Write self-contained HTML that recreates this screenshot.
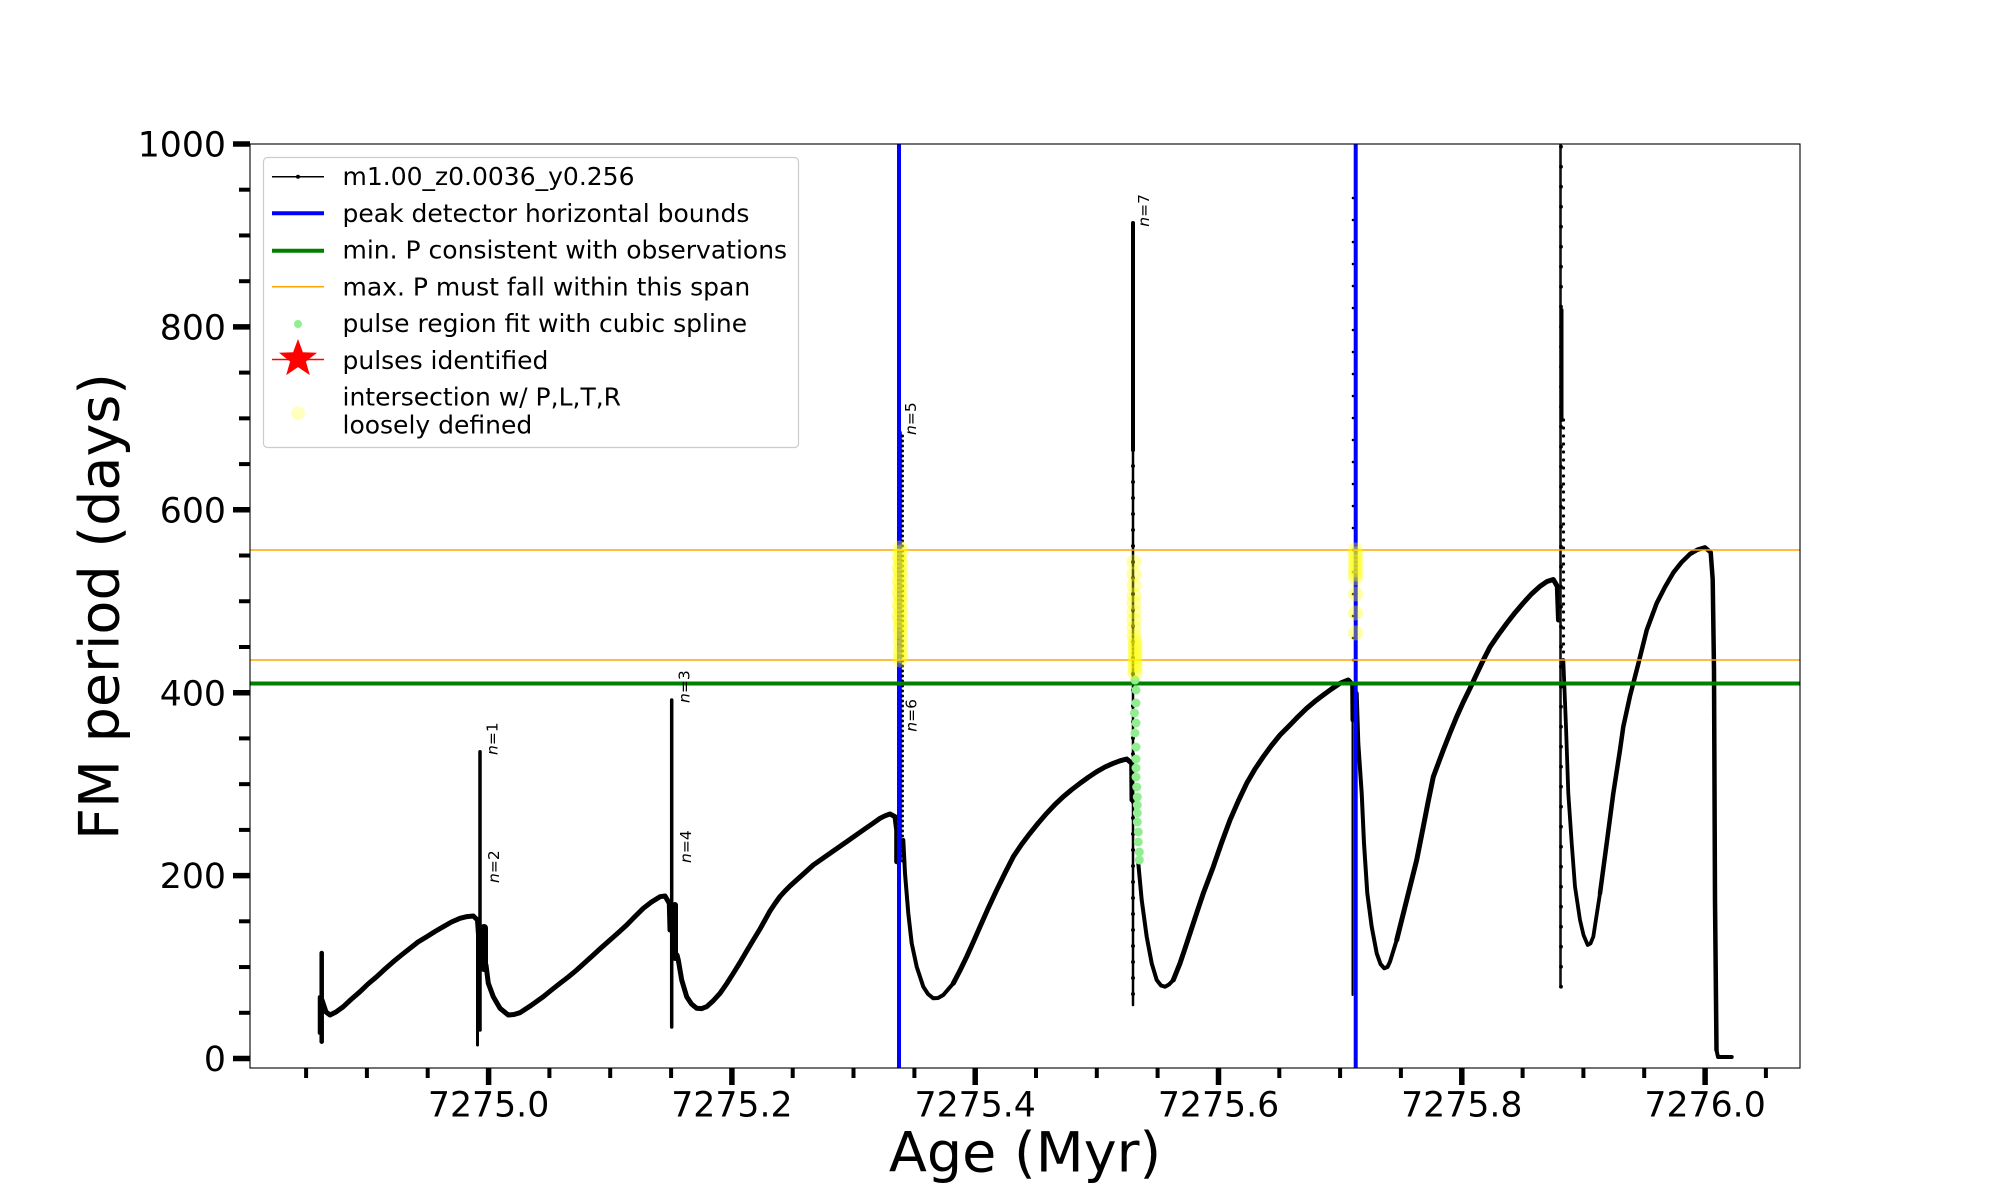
<!DOCTYPE html>
<html><head><meta charset="utf-8"><style>
html,body{margin:0;padding:0;background:#fff;}
svg{display:block;font-family:"DejaVu Sans","Liberation Sans",sans-serif;}
</style></head><body>
<svg width="2000" height="1200" viewBox="0 0 2000 1200" xmlns="http://www.w3.org/2000/svg">
<rect x="0" y="0" width="2000" height="1200" fill="#fff"/>
<defs><clipPath id="ax"><rect x="250" y="144" width="1550" height="924"/></clipPath></defs>
<g clip-path="url(#ax)" fill="none" stroke="#000" stroke-linejoin="round" stroke-linecap="round">
<!-- start spike -->
<path d="M321.7,953 L321.7,1041.7" stroke-width="4.5"/>
<path d="M319.5,997 L319.5,1033" stroke-width="3.5"/>
<path d="M322,1000 L326,1012 L330,1015 L336,1012 L343.3,1006.7 L351,999.5 L360,991.7 L368,984 L376.7,976.7 L385,969 L393.3,961.7 L401.5,955 L410,948.3 L418,942 L426.7,936.7 L435,931.5 L443.3,926.7 L451.5,922 L460,918.3 L467,916.6 L473.3,916 L477.5,920 L478.5,935" stroke-width="5"/>
<!-- spike 1 -->
<path d="M480,751.7 L480,1030" stroke-width="3.5"/>
<path d="M477.5,925 L477.5,1045" stroke-width="3"/>
<path d="M484,928 L484,968" stroke-width="8"/>
<path d="M486,965 L488.3,983.3 L493.3,996.7 L500,1008.3 L508.3,1015 L514,1014.5 L520,1012.7 L531,1005.5 L543.3,996.7 L551.5,990 L560,983.3 L568.5,976.8 L576.7,970 L585,962.5 L593.3,955 L601.5,947.5 L610,940 L618.5,932.5 L626.7,925 L635,916.5 L643.3,908.3 L651.5,902 L660,896.7 L665,896 L669.3,903.3 L670,930" stroke-width="5"/>
<!-- spike 3 -->
<path d="M671.7,700 L671.7,1027" stroke-width="3.5"/>
<path d="M675,905 L675,958" stroke-width="6"/>
<path d="M677,955 L678.3,960 L681.7,980 L686.7,996.7 L691.5,1004 L696.7,1008.3 L701.5,1008.6 L706.7,1006.7 L713,1001 L720,993.3 L726.5,984 L733.3,973.3 L740,962.5 L746.7,951 L753.3,940 L760,929 L765,920 L770,911 L775,903.5 L780,896.5 L785,891 L790,886 L800,877 L813.3,865 L830,853.3 L846.7,841.7 L863.3,830 L872,824 L880,818.3 L885,815.8 L890,814 L895,816.7 L896.7,830 L896.7,861.7" stroke-width="5"/>
<!-- spike 5 -->
<path d="M901,861 L901,432" stroke-width="1.5"/>
<path d="M902.5,861 L902.5,432" stroke-width="3" stroke-dasharray="0 5"/>
<path d="M903.3,840 L905,873.3 L908.3,913.3 L911.7,943.3 L916.7,966.7 L923.3,986.7 L928,994 L933.3,998.3 L938,998 L943.3,995 L953.3,983.3" stroke-width="4"/>
<path d="M953.3,983.3 L960,970.5 L966.7,956.7 L973.3,942 L980,926.7 L988.3,908 L996.7,890 L1005,873 L1013.3,856.7 L1021.5,844.5 L1030,833.3 L1038.3,823 L1046.7,813.3 L1055,804.5 L1063.3,796.7 L1071.5,789.8 L1080,783.3 L1088.3,777.3 L1096.7,771.7 L1105,767 L1113.3,763.3 L1120,760.8 L1126.7,759 L1131.7,763.3 L1132,800" stroke-width="5"/>
<!-- spike 7 -->
<path d="M1133,223 L1133,1005" stroke-width="2.5"/>
<path d="M1133,223 L1133,450" stroke-width="4"/>
<path d="M1133,450 L1133,1005" stroke-width="4" stroke-dasharray="0 16"/>
<path d="M1138.3,863.3 L1141.7,900 L1146.7,936.7 L1151.7,963.3 L1156.7,980 L1161,985.5 L1165,986.7 L1169,984.5 L1173.3,980" stroke-width="4"/>
<path d="M1173.3,980 L1180,963.3 L1185,948.5 L1190,933.3 L1196.7,913 L1203.3,893.3 L1213.3,866.7 L1221.5,843 L1230,820 L1238.3,801 L1246.7,783.3 L1255,769 L1263.3,756.7 L1271.5,745.5 L1280,735 L1290,725 L1298.3,716.4 L1306.7,708.3 L1315,701.3 L1323.3,695 L1331.5,689 L1340,683.3 L1348.3,680 L1352.7,685 L1353,720" stroke-width="5"/>
<!-- spike at blue 2 -->
<path d="M1352.5,995 L1352.5,690" stroke-width="2"/>
<path d="M1353,660 L1353,185" stroke-width="2.6" stroke-dasharray="0 22"/>
<path d="M1356.7,693.3 L1358.3,743.3 L1361.7,793.3 L1364,843.3 L1367.3,893.3 L1371.7,926.7 L1376.7,953.3 L1380.5,964 L1384.3,968.3 L1387.5,967 L1390,961.7 L1396.7,940" stroke-width="4"/>
<path d="M1396.7,940 L1406.7,900 L1416.7,860 L1423.3,826.7 L1428.3,801 L1433.3,776.7 L1443.3,750 L1450,733 L1456.7,716.7 L1463.3,702 L1470,688.3 L1476.7,674 L1483.3,660 L1490,647 L1498.3,634.8 L1506.7,623.4 L1515,612.7 L1523.3,603 L1531.5,594 L1540,586.3 L1547,581.5 L1553.3,579.5 L1557.3,586.3 L1558.5,620" stroke-width="5"/>
<!-- spike at 7275.88 -->
<path d="M1560.5,986.7 L1560.5,140" stroke-width="2.6" stroke="#111"/>
<path d="M1561,986.7 L1561,140" stroke-width="3.8" stroke-dasharray="0 20"/>
<path d="M1561.5,310 L1561.5,420" stroke-width="4"/>
<path d="M1563.5,420 L1563.5,660" stroke-width="3.2" stroke-dasharray="0 8"/>
<path d="M1563.3,660 L1566,726.7 L1568.3,793.3 L1571.7,843.3 L1575,886.7 L1580,920 L1583.5,935 L1587.7,945 L1590.5,943.5 L1593.3,936.7 L1600,893.3" stroke-width="3.8"/>
<path d="M1600,893.3 L1606.7,843.3 L1613.3,793.3 L1620,750 L1623.3,726.7 L1630,696 L1638,665 L1646.7,630.2 L1656.7,603.2 L1665,587 L1673.3,572.7 L1681.5,562.3 L1690,554 L1697.5,549.7 L1705,547.4 L1710.7,552.4 L1712.7,579.5 L1714,670 L1715,900 L1716,1000 L1716.5,1050" stroke-width="4.5"/>
<path d="M1716.5,1050 L1718,1057 L1731.7,1057" stroke-width="4"/>
</g>
<!-- blue lines -->
<g stroke="#0000ff" stroke-width="4">
<line x1="899" y1="144" x2="899" y2="1068"/>
<line x1="1355.7" y1="144" x2="1355.7" y2="1068"/>
</g>
<!-- green & orange -->
<line x1="250" y1="683.5" x2="1800" y2="683.5" stroke="#008000" stroke-width="4"/>
<line x1="250" y1="550" x2="1800" y2="550" stroke="#ffa500" stroke-width="1.6"/>
<line x1="250" y1="660" x2="1800" y2="660" stroke="#ffa500" stroke-width="1.6"/>
<!-- light green dots -->
<g fill="#90ee90">
<circle cx="1135" cy="680" r="4.5"/><circle cx="1136" cy="690" r="4.5"/><circle cx="1136" cy="703" r="4.5"/><circle cx="1134.5" cy="713" r="4.5"/><circle cx="1136" cy="723" r="4.5"/><circle cx="1135" cy="733" r="4.5"/><circle cx="1136" cy="747" r="4.5"/><circle cx="1136" cy="759" r="4.5"/><circle cx="1136" cy="768" r="4.5"/><circle cx="1136" cy="777" r="4.5"/><circle cx="1136.7" cy="787" r="4.5"/><circle cx="1137.3" cy="797" r="4.5"/><circle cx="1137.3" cy="805" r="4.5"/><circle cx="1137.3" cy="813" r="4.5"/><circle cx="1137.3" cy="822" r="4.5"/><circle cx="1138.3" cy="832" r="4.5"/><circle cx="1138.3" cy="842" r="4.5"/><circle cx="1139.3" cy="852" r="4.5"/><circle cx="1139.3" cy="860" r="4.5"/>
</g>
<!-- yellow circles -->
<g fill="#ffff00" fill-opacity="0.35">
<circle cx="900" cy="548" r="7.5"/><circle cx="901" cy="552" r="7.5"/><circle cx="899" cy="556" r="7.5"/><circle cx="900" cy="560" r="7.5"/><circle cx="901" cy="564" r="7.5"/><circle cx="899" cy="568" r="7.5"/><circle cx="900" cy="572" r="7.5"/><circle cx="901" cy="576" r="7.5"/><circle cx="899" cy="580" r="7.5"/><circle cx="900" cy="584" r="7.5"/><circle cx="901" cy="588" r="7.5"/><circle cx="899" cy="592" r="7.5"/><circle cx="900" cy="596" r="7.5"/><circle cx="901" cy="600" r="7.5"/><circle cx="899" cy="604" r="7.5"/><circle cx="900" cy="608" r="7.5"/><circle cx="901" cy="612" r="7.5"/><circle cx="899" cy="616" r="7.5"/><circle cx="900" cy="620" r="7.5"/><circle cx="901" cy="624" r="7.5"/><circle cx="900" cy="628" r="7.5"/><circle cx="900" cy="632" r="7.5"/><circle cx="901" cy="637" r="7.5"/><circle cx="900" cy="642" r="7.5"/><circle cx="901" cy="647" r="7.5"/><circle cx="900" cy="652" r="7.5"/><circle cx="901" cy="656" r="7.5"/><circle cx="900" cy="660" r="7.5"/>
<circle cx="1134" cy="562" r="7.5"/><circle cx="1134" cy="574" r="7.5"/><circle cx="1134" cy="585" r="7.5"/><circle cx="1134" cy="595" r="7.5"/><circle cx="1134" cy="603" r="7.5"/><circle cx="1134" cy="612" r="7.5"/><circle cx="1134" cy="620" r="7.5"/><circle cx="1134" cy="628" r="7.5"/><circle cx="1134" cy="636" r="7.5"/><circle cx="1135" cy="641" r="7.5"/><circle cx="1135" cy="645" r="7.5"/><circle cx="1135" cy="649" r="7.5"/><circle cx="1135" cy="653" r="7.5"/><circle cx="1135" cy="657" r="7.5"/><circle cx="1135" cy="661" r="7.5"/><circle cx="1135" cy="665" r="7.5"/><circle cx="1135" cy="669" r="7.5"/><circle cx="1135" cy="673" r="7.5"/>
<circle cx="1355.5" cy="550" r="7.5"/><circle cx="1355.5" cy="554" r="7.5"/><circle cx="1355.5" cy="558" r="7.5"/><circle cx="1355.5" cy="562" r="7.5"/><circle cx="1355.5" cy="566" r="7.5"/><circle cx="1355.5" cy="570" r="7.5"/><circle cx="1355.5" cy="574" r="7.5"/><circle cx="1355.5" cy="578" r="7.5"/><circle cx="1355.5" cy="594" r="7.5"/><circle cx="1355.5" cy="613" r="7.5"/><circle cx="1355.5" cy="633" r="7.5"/>
</g>
<!-- n labels -->
<g font-size="15.5" fill="#000">
<text transform="translate(497.5,755) rotate(-90)"><tspan font-style="italic">n</tspan>=1</text>
<text transform="translate(499,883) rotate(-90)"><tspan font-style="italic">n</tspan>=2</text>
<text transform="translate(689.5,703) rotate(-90)"><tspan font-style="italic">n</tspan>=3</text>
<text transform="translate(691,863) rotate(-90)"><tspan font-style="italic">n</tspan>=4</text>
<text transform="translate(916,435) rotate(-90)"><tspan font-style="italic">n</tspan>=5</text>
<text transform="translate(916.5,731.7) rotate(-90)"><tspan font-style="italic">n</tspan>=6</text>
<text transform="translate(1149,226.7) rotate(-90)"><tspan font-style="italic">n</tspan>=7</text>
</g>
<!-- axes frame -->
<rect x="250" y="144" width="1550" height="924" fill="none" stroke="#000" stroke-width="1.1"/>
<!-- y ticks -->
<g stroke="#000" stroke-width="5.5">
<line x1="233" y1="1058.5" x2="250" y2="1058.5"/><line x1="233" y1="875.6" x2="250" y2="875.6"/><line x1="233" y1="692.7" x2="250" y2="692.7"/><line x1="233" y1="509.8" x2="250" y2="509.8"/><line x1="233" y1="326.9" x2="250" y2="326.9"/><line x1="233" y1="144" x2="250" y2="144"/>
</g>
<g stroke="#000" stroke-width="4">
<line x1="239" y1="1012.8" x2="250" y2="1012.8"/><line x1="239" y1="967.05" x2="250" y2="967.05"/><line x1="239" y1="921.3" x2="250" y2="921.3"/><line x1="239" y1="829.9" x2="250" y2="829.9"/><line x1="239" y1="784.15" x2="250" y2="784.15"/><line x1="239" y1="738.4" x2="250" y2="738.4"/><line x1="239" y1="647" x2="250" y2="647"/><line x1="239" y1="601.25" x2="250" y2="601.25"/><line x1="239" y1="555.5" x2="250" y2="555.5"/><line x1="239" y1="464.1" x2="250" y2="464.1"/><line x1="239" y1="418.35" x2="250" y2="418.35"/><line x1="239" y1="372.6" x2="250" y2="372.6"/><line x1="239" y1="281.2" x2="250" y2="281.2"/><line x1="239" y1="235.45" x2="250" y2="235.45"/><line x1="239" y1="189.7" x2="250" y2="189.7"/>
</g>
<g font-size="34.7" fill="#000" text-anchor="end">
<text x="226" y="1071.1">0</text><text x="226" y="888.2">200</text><text x="226" y="705.3">400</text><text x="226" y="522.4">600</text><text x="226" y="339.5">800</text><text x="226" y="156.6">1000</text>
</g>
<!-- x ticks -->
<g stroke="#000" stroke-width="5.5">
<line x1="488.6" y1="1068" x2="488.6" y2="1085"/><line x1="731.9" y1="1068" x2="731.9" y2="1085"/><line x1="975.2" y1="1068" x2="975.2" y2="1085"/><line x1="1218.5" y1="1068" x2="1218.5" y2="1085"/><line x1="1461.8" y1="1068" x2="1461.8" y2="1085"/><line x1="1705.1" y1="1068" x2="1705.1" y2="1085"/>
</g>
<g stroke="#000" stroke-width="4">
<line x1="306.1" y1="1068" x2="306.1" y2="1078"/><line x1="366.9" y1="1068" x2="366.9" y2="1078"/><line x1="427.7" y1="1068" x2="427.7" y2="1078"/><line x1="549.4" y1="1068" x2="549.4" y2="1078"/><line x1="610.2" y1="1068" x2="610.2" y2="1078"/><line x1="671.1" y1="1068" x2="671.1" y2="1078"/><line x1="792.7" y1="1068" x2="792.7" y2="1078"/><line x1="853.5" y1="1068" x2="853.5" y2="1078"/><line x1="914.4" y1="1068" x2="914.4" y2="1078"/><line x1="1036" y1="1068" x2="1036" y2="1078"/><line x1="1096.8" y1="1068" x2="1096.8" y2="1078"/><line x1="1157.6" y1="1068" x2="1157.6" y2="1078"/><line x1="1279.3" y1="1068" x2="1279.3" y2="1078"/><line x1="1340.1" y1="1068" x2="1340.1" y2="1078"/><line x1="1400.9" y1="1068" x2="1400.9" y2="1078"/><line x1="1522.6" y1="1068" x2="1522.6" y2="1078"/><line x1="1583.4" y1="1068" x2="1583.4" y2="1078"/><line x1="1644.2" y1="1068" x2="1644.2" y2="1078"/><line x1="1765.9" y1="1068" x2="1765.9" y2="1078"/>
</g>
<g font-size="34.7" fill="#000" text-anchor="middle">
<text x="488.6" y="1116.7">7275.0</text><text x="731.9" y="1116.7">7275.2</text><text x="975.2" y="1116.7">7275.4</text><text x="1218.5" y="1116.7">7275.6</text><text x="1461.8" y="1116.7">7275.8</text><text x="1705.1" y="1116.7">7276.0</text>
</g>
<!-- axis labels -->
<text x="1025" y="1171.5" font-size="55.6" text-anchor="middle" fill="#000">Age (Myr)</text>
<text transform="translate(118.5,606.5) rotate(-90)" font-size="55.6" text-anchor="middle" fill="#000">FM period (days)</text>
<!-- legend -->
<rect x="263.5" y="157.5" width="535" height="290" rx="4" ry="4" fill="#fff" fill-opacity="0.8" stroke="#cccccc" stroke-width="1.2"/>
<line x1="272" y1="176.7" x2="324" y2="176.7" stroke="#000" stroke-width="1.5"/>
<circle cx="298" cy="176.7" r="2" fill="#000"/>
<line x1="272" y1="213.3" x2="324" y2="213.3" stroke="#0000ff" stroke-width="4"/>
<line x1="272" y1="250.7" x2="324" y2="250.7" stroke="#008000" stroke-width="4"/>
<line x1="272" y1="286.7" x2="324" y2="286.7" stroke="#ffa500" stroke-width="1.5"/>
<circle cx="298" cy="324" r="4" fill="#90ee90"/>
<line x1="272" y1="359.5" x2="324" y2="359.5" stroke="#ff0000" stroke-width="1.5"/>
<polygon points="298,339 302.9,352.3 317,352.8 305.9,361.5 309.8,375.1 298,367.1 286.2,375.1 290.1,361.5 279,352.8 293.1,352.3" fill="#ff0000"/>
<circle cx="298" cy="413.3" r="7" fill="#ffff00" fill-opacity="0.25"/>
<g font-size="25" fill="#000">
<text x="342.5" y="185">m1.00_z0.0036_y0.256</text>
<text x="342.5" y="221.8">peak detector horizontal bounds</text>
<text x="342.5" y="258.6">min. P consistent with observations</text>
<text x="342.5" y="295.4">max. P must fall within this span</text>
<text x="342.5" y="332.2">pulse region fit with cubic spline</text>
<text x="342.5" y="369">pulses identified</text>
<text x="342.5" y="405.5">intersection w/ P,L,T,R</text>
<text x="342.5" y="433.5">loosely defined</text>
</g>
</svg>
</body></html>
